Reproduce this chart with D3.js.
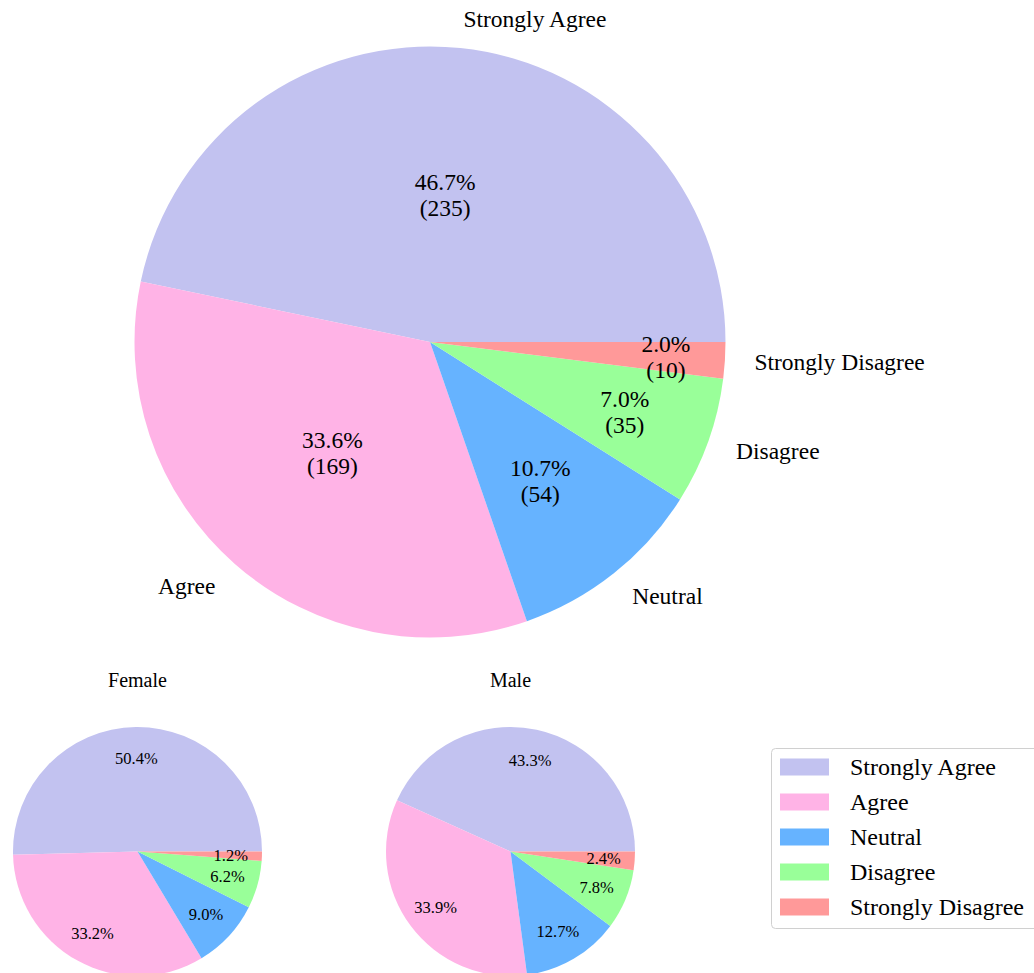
<!DOCTYPE html>
<meta charset="utf-8">
<head>
    <title>Survey responses pie charts</title>
    <style>
        body { margin: 0; background: #fff; }
        svg text { font-family: "Liberation Serif", "Times New Roman", serif; fill: #000; }
    </style>
</head>
<body>
    <script src="https://d3js.org/d3.v7.min.js"></script>
    <script>
        // data
        var categories = ["Strongly Agree", "Agree", "Neutral", "Disagree", "Strongly Disagree"];
        var allCounts = [235, 169, 54, 35, 10];
        var femalePct = [50.4, 33.2, 9.0, 6.2, 1.2];
        var malePct = [43.3, 33.9, 12.7, 7.8, 2.4];
        var colors = ["#c2c2f0", "#ffb3e6", "#66b3ff", "#99ff99", "#ff9999"];

        // where the labels of the big pie sit (fraction of radius)
        var bigPctDist = [0.5, 0.5, 0.6, 0.7, 0.8];

        var width = 1034, height = 973;
        var svg = d3.select("body").append("svg")
            .attr("width", width)
            .attr("height", height);

        var color = d3.scaleOrdinal().domain(categories).range(colors);

        // matplotlib style: start at 3 o'clock, counter clockwise
        var pie = d3.pie()
            .sort(null)
            .value(function(d) { return d.v; })
            .startAngle(Math.PI / 2)
            .endAngle(Math.PI / 2 - 2 * Math.PI);

        function mid(d) { return (d.startAngle + d.endAngle) / 2; }

        function drawPie(cx, cy, r, values, opts) {
            var g = svg.append("g").attr("transform", "translate(" + cx + "," + cy + ")");
            var data = values.map(function(v, i) { return { k: categories[i], v: v }; });
            var arcs = pie(data);
            var arc = d3.arc().innerRadius(0).outerRadius(r);

            g.selectAll("path").data(arcs).enter().append("path")
                .attr("d", arc)
                .attr("fill", function(d) { return color(d.data.k); });

            var total = d3.sum(values);
            arcs.forEach(function(d, i) {
                var a = mid(d);
                var dist = r * opts.pctDist(i);
                var x = dist * Math.sin(a), y = -dist * Math.cos(a);
                var pct = (100 * d.data.v / total).toFixed(1) + "%";
                var t = g.append("text")
                    .attr("text-anchor", "middle")
                    .attr("dominant-baseline", "central")
                    .style("font-size", opts.pctSize + "px");
                if (opts.counts) {
                    var lh = opts.pctSize * 1.12;
                    t.append("tspan").attr("x", x).attr("y", y - lh / 2).text(pct);
                    t.append("tspan").attr("x", x).attr("y", y + lh / 2).text("(" + d.data.v + ")");
                } else {
                    t.attr("x", x).attr("y", y).text(pct);
                }

                if (opts.labels) {
                    var lx = 1.1 * r * Math.sin(a), ly = -1.1 * r * Math.cos(a);
                    g.append("text")
                        .attr("x", lx).attr("y", ly)
                        .attr("text-anchor", lx > 0 ? "start" : "end")
                        .attr("dominant-baseline", "central")
                        .style("font-size", opts.labelSize + "px")
                        .text(d.data.k);
                }
            });

            if (opts.title) {
                svg.append("text")
                    .attr("x", cx).attr("y", opts.titleY)
                    .attr("text-anchor", "middle")
                    .attr("dominant-baseline", "central")
                    .style("font-size", "20px")
                    .text(opts.title);
            }
        }

        // overall
        drawPie(430, 342, 295.5, allCounts, {
            pctDist: function(i) { return bigPctDist[i]; },
            pctSize: 23.5, counts: true, labels: true, labelSize: 23.5
        });

        // by gender
        drawPie(137.5, 851.5, 124.5, femalePct, {
            pctDist: function() { return 0.75; },
            pctSize: 16.5, title: "Female", titleY: 680
        });
        drawPie(510.5, 851.5, 124.5, malePct, {
            pctDist: function() { return 0.75; },
            pctSize: 16.5, title: "Male", titleY: 680
        });

        // legend
        var legend = svg.append("g").attr("id", "legend");
        legend.append("rect")
            .attr("x", 771.5).attr("y", 748.5)
            .attr("width", 280).attr("height", 180)
            .attr("rx", 4)
            .attr("fill", "#fff")
            .attr("stroke", "#d0d0d0");

        categories.forEach(function(c, i) {
            var cy = 767 + i * 35;
            legend.append("rect")
                .attr("x", 780).attr("y", cy - 8.5)
                .attr("width", 49).attr("height", 17)
                .attr("fill", color(c));
            legend.append("text")
                .attr("x", 850).attr("y", cy)
                .attr("dominant-baseline", "central")
                .style("font-size", "24px")
                .text(c);
        });
    </script>
</body>
</html>
